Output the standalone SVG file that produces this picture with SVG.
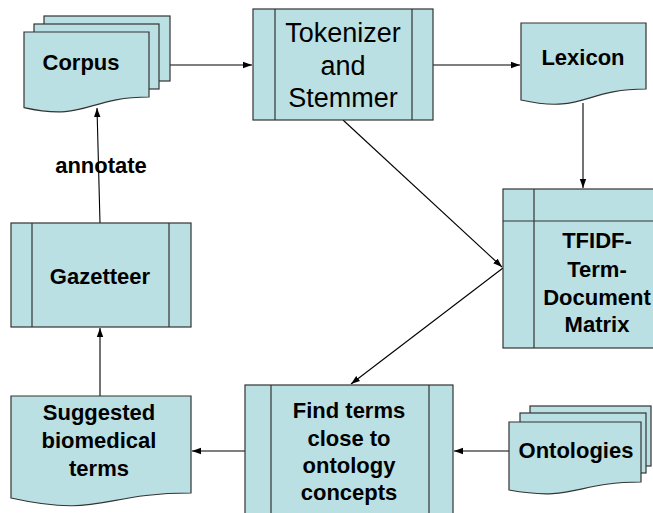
<svg xmlns="http://www.w3.org/2000/svg" width="653" height="513" viewBox="0 0 653 513">
<style>
.s{fill:#BBE0E3;stroke:#333;stroke-width:1.2}
.l{fill:none;stroke:#333;stroke-width:1.2}
.c{fill:none;stroke:#000;stroke-width:1.1;marker-end:url(#ah)}
.b{font-family:"Liberation Sans",Arial,sans-serif;font-weight:bold;font-size:22px;fill:#000;text-anchor:middle}
.n{font-family:"Liberation Sans",Arial,sans-serif;font-size:27px;fill:#000;text-anchor:middle}
</style>
<defs>
<marker id="ah" markerWidth="10" markerHeight="8" refX="9" refY="4" orient="auto" markerUnits="userSpaceOnUse">
<path d="M0,0.8 L9,4 L0,7.2 Z" fill="#000"/>
</marker>
</defs>
<rect width="653" height="513" fill="#fff"/>
<g id="connectors">
<line class="c" x1="170" y1="65" x2="252" y2="65"/>
<line class="c" x1="433" y1="65" x2="520" y2="65"/>
<line class="c" x1="583" y1="103" x2="583" y2="188"/>
<line class="c" x1="343" y1="120" x2="502" y2="267"/>
<line class="c" x1="503" y1="268" x2="351" y2="384"/>
<line class="c" x1="245" y1="451" x2="192" y2="451"/>
<line class="c" x1="509" y1="451" x2="454" y2="451"/>
<line class="c" x1="100" y1="223" x2="97" y2="108"/>
<line class="c" x1="100" y1="396" x2="100" y2="328"/>
<text class="b" x="101" y="173">annotate</text>
</g>
<g id="corpus">
<rect class="s" x="44" y="16" width="126" height="65"/>
<rect class="s" x="34" y="24" width="125" height="65"/>
<path class="s" d="M24,32 H149 V97 C86.5,97 86.5,121.6 24,107.6 Z"/>
<text class="b" x="81" y="70">Corpus</text>
</g>
<g id="tokenizer">
<rect class="s" x="253" y="9" width="180" height="111"/>
<line class="l" x1="275" y1="9" x2="275" y2="120"/>
<line class="l" x1="412" y1="9" x2="412" y2="120"/>
<text class="n" x="343" y="42">Tokenizer</text>
<text class="n" x="343" y="75">and</text>
<text class="n" x="343" y="107">Stemmer</text>
</g>
<g id="lexicon">
<path class="s" d="M521,23 H646 V89 C583.5,89 583.5,114 521,100 Z"/>
<text class="b" x="583" y="65">Lexicon</text>
</g>
<g id="tfidf">
<rect class="s" x="503" y="189" width="160" height="159"/>
<line class="l" x1="534" y1="189" x2="534" y2="348"/>
<line class="l" x1="503" y1="221" x2="663" y2="221"/>
<text class="b" x="597" y="248">TFIDF-</text>
<text class="b" x="597" y="277">Term-</text>
<text class="b" x="597" y="305">Document</text>
<text class="b" x="597" y="332">Matrix</text>
</g>
<g id="gazetteer">
<rect class="s" x="11" y="223" width="180" height="104"/>
<line class="l" x1="32" y1="223" x2="32" y2="327"/>
<line class="l" x1="169" y1="223" x2="169" y2="327"/>
<text class="b" x="100" y="284">Gazetteer</text>
</g>
<g id="suggested">
<path class="s" d="M11,396 H191 V493 C101,493 101,518 11,498 Z"/>
<text class="b" x="99" y="420">Suggested</text>
<text class="b" x="99" y="448">biomedical</text>
<text class="b" x="99" y="476">terms</text>
</g>
<g id="findterms">
<rect class="s" x="245" y="385" width="208" height="140"/>
<line class="l" x1="271" y1="385" x2="271" y2="525"/>
<line class="l" x1="429" y1="385" x2="429" y2="525"/>
<text class="b" x="349" y="418">Find terms</text>
<text class="b" x="349" y="446">close to</text>
<text class="b" x="349" y="473">ontology</text>
<text class="b" x="349" y="500">concepts</text>
</g>
<g id="ontologies">
<rect class="s" x="530" y="406" width="121" height="60"/>
<rect class="s" x="520" y="413" width="126" height="60"/>
<path class="s" d="M509,422 H641 V482 C575,482 575,502 509,490 Z"/>
<text class="b" x="576" y="458">Ontologies</text>
</g>
</svg>
